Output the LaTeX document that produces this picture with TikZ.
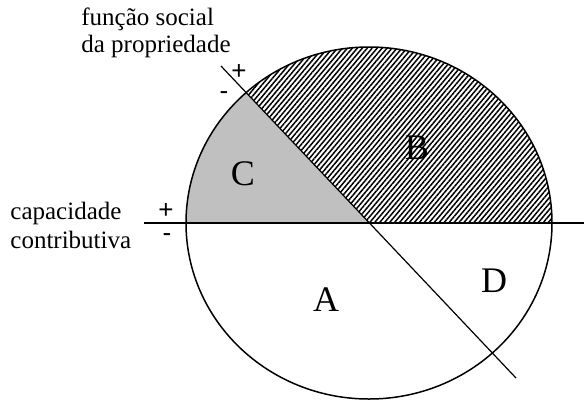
\documentclass[tikz,border=0pt]{standalone}
\usepackage{fontspec}
\setmainfont{Liberation Serif}
\newfontfamily\signfont{Liberation Sans}
\usetikzlibrary{calc,patterns.meta}
\definecolor{zoneGray}{HTML}{C0C0C0}
\tikzset{
  outline/.style={line width=0.75pt, draw=black},
  cut/.style={line width=0.6pt, draw=black},
  zone/.style={font=\fontsize{18}{20}\selectfont, inner sep=0pt},
  axislabel/.style={font=\fontsize{12.5}{13.5}\selectfont, align=left,
                    inner sep=0pt, anchor=base west},
  sign/.style={font=\signfont\fontsize{13}{14}\selectfont, inner sep=0pt},
  hatch/.style={pattern={Lines[angle=50, distance=1.9pt, line width=0.75pt]}},
}

\begin{document}
\begin{tikzpicture}[x=0.5pt, y=-0.5pt]
  \useasboundingbox (0,0) rectangle (584,403);
  \coordinate (O) at (369,223);
  \coordinate (diagTop) at (221,66);
  \coordinate (diagEnd) at (516,378);
  \coordinate (horizStart) at (144,223);
  \coordinate (horizEnd) at (584,223);

  % regions C and B, clipped to the ellipse
  \begin{scope}
    \clip (O) ellipse [x radius=183, y radius=176];
    \fill[zoneGray] (O) -- ($(O)!1.6!(diagTop)$) -- (0,-20) -- (0,223) -- cycle;
    \fill[hatch] (O) -- ($(O)!1.6!(diagTop)$) -- (584,-20) -- (584,223) -- cycle;
  \end{scope}
  \draw[outline] (O) ellipse [x radius=183, y radius=176];
  \draw[cut] (horizStart) -- (horizEnd);
  \draw[cut] (diagTop) -- (diagEnd);

  \node[zone] (zoneA) at (326,300) {A};
  \node[zone] (zoneB) at (417,148) {B};
  \node[zone] (zoneC) at (243,174) {C};
  \node[zone] (zoneD) at (494,281) {D};

  % anchors sit on the last line
  \node[axislabel] (funcao) at (81,52) {função social\\da propriedade};
  \node[axislabel, font=\fontsize{12.5}{14.5}\selectfont] (capac) at (10,248)
    {capacidade\\contributiva};

  \node[sign] (diagPlus) at (239,72) {+};
  \node[sign] (diagMinus) at (224,96) {-};
  \node[sign] (horizPlus) at (166,211) {+};
  \node[sign] (horizMinus) at (167,238) {-};
\end{tikzpicture}
\end{document}
